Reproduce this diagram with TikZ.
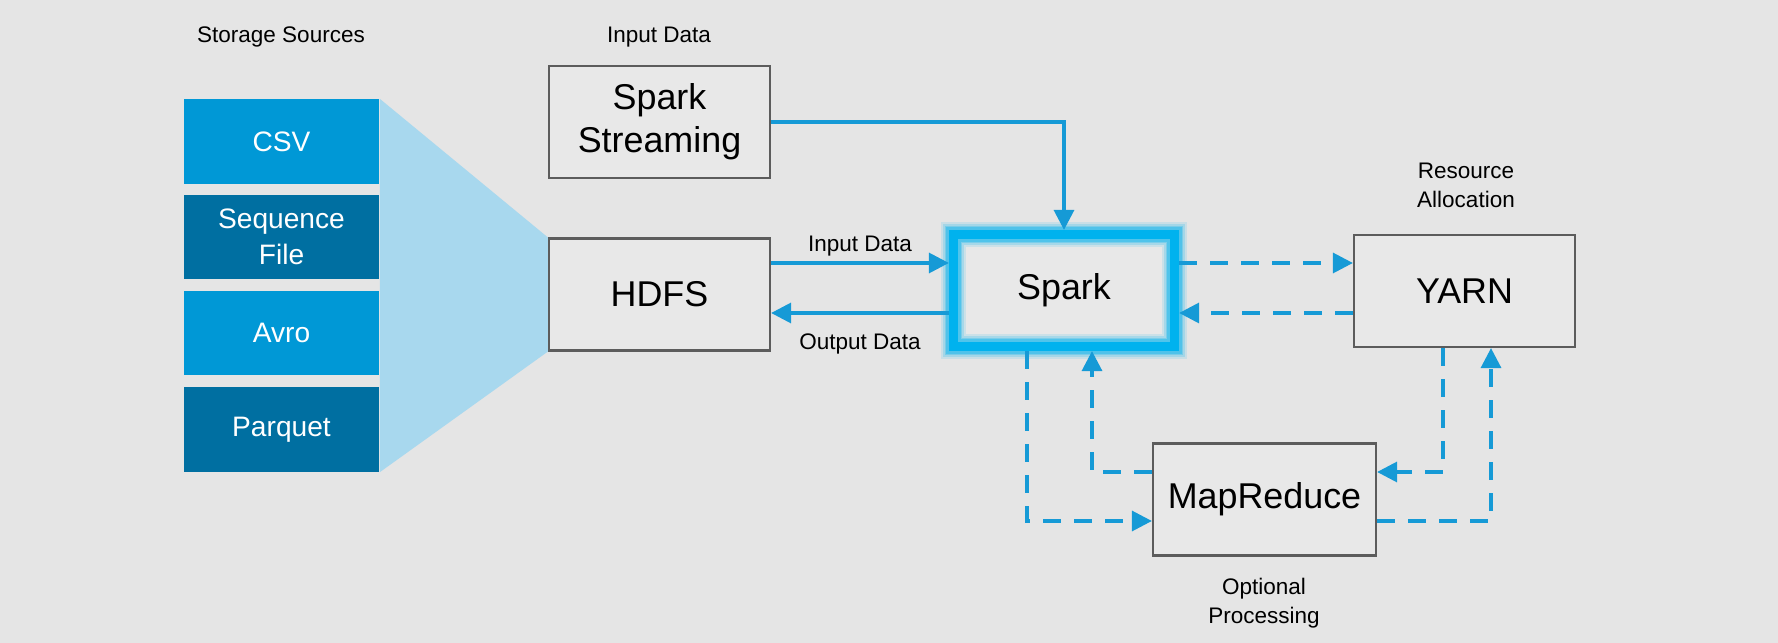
\documentclass[tikz,border=0pt]{standalone}
\usepackage{fontspec}
\setmainfont{Liberation Sans}
\usetikzlibrary{positioning,calc,arrows.meta}
\definecolor{bgray}{RGB}{229,229,229}
\definecolor{boxgray}{RGB}{232,232,232}
\definecolor{edgegray}{RGB}{92,92,92}
\definecolor{srclight}{RGB}{0,152,214}
\definecolor{srcdark}{RGB}{0,111,161}
\definecolor{funnel}{RGB}{168,216,238}
\definecolor{flowblue}{RGB}{22,154,214}
\definecolor{glowblue}{RGB}{0,178,238}

\begin{document}
\begin{tikzpicture}[x=0.01cm,y=-0.01cm,
  block/.style={draw=edgegray,line width=0.6pt,fill=boxgray,inner sep=0pt,
    minimum width=2.21cm,minimum height=1.12cm,align=center,
    font=\fontsize{10.2}{12.2}\selectfont},
  srcbox/.style={inner sep=0pt,minimum width=1.95cm,minimum height=0.84cm,
    text=white,align=center,font=\fontsize{8}{10.3}\selectfont},
  note/.style={align=center,font=\fontsize{6.4}{8.3}\selectfont},
  flow/.style={draw=flowblue,line width=0.95pt,-{Triangle[length=2mm,width=2mm]}},
  dflow/.style={flow,dash pattern=on 1.8mm off 1.3mm}]
% Background fixes the page size
\fill[bgray] (0,0) rectangle (1778,643);
% Storage sources column
\node[srcbox,fill=srclight] (csv) at (281.5,141.5) {CSV};
\node[srcbox,fill=srcdark] (seq) at (281.5,237) {Sequence\\File};
\node[srcbox,fill=srclight] (avro) at (281.5,333) {Avro};
\node[srcbox,fill=srcdark] (parq) at (281.5,429.5) {Parquet};
% Main blocks
\node[block] (stream) at (659.5,122) {Spark\\Streaming};
\node[block] (hdfs) at (659.5,294.5) {HDFS};
\node[block] (yarn) at (1464.5,291) {YARN};
\node[block,minimum width=2.23cm] (mr) at (1264.5,499.5) {MapReduce};
% Funnel from the sources into HDFS
\fill[funnel] (csv.north east) -- (hdfs.north west) -- (hdfs.south west)
  -- (parq.south east) -- cycle;
% Spark with its glowing border
\node[block,draw=glowblue,line width=2.6pt] (spark) at (1064,290.5) {Spark};
\foreach \w/\o in {7/.12,6/.18,5/.25,4/.35}
  \draw[glowblue,line width=\w pt,opacity=\o] (953.5,234.5) rectangle (1174.5,346.5);
% Labels
\node[note] (lsrc) at (281,37) {Storage Sources};
\node[note] (lin) at (659,37) {Input Data};
\node[note] (lres) at (1466,185) {Resource\\Allocation};
\node[note] (lopt) at (1264,603) {Optional\\Processing};
% Solid data flows
\draw[flow] (stream.east) -| (spark.north);
\draw[flow] (hdfs.east |- 0,263) -- node[note,above=-2pt] {Input Data} (spark.west |- 0,263);
\draw[flow] (spark.west |- 0,313) -- node[note,below=2pt] {Output Data} (hdfs.east |- 0,313);
% Dashed resource flows
\draw[dflow] (spark.east |- 0,263) -- (yarn.west |- 0,263);
\draw[dflow] (yarn.west |- 0,313) -- (spark.east |- 0,313);
\draw[dflow] (spark.south -| 1027,0) |- (mr.west |- 0,521);
\draw[dflow] (mr.west |- 0,472) -| (spark.south -| 1092,0);
\draw[dflow] (yarn.south -| 1443,0) |- (mr.east |- 0,472);
\draw[dflow] (mr.east |- 0,521) -| (yarn.south -| 1491,0);
\end{tikzpicture}
\end{document}
